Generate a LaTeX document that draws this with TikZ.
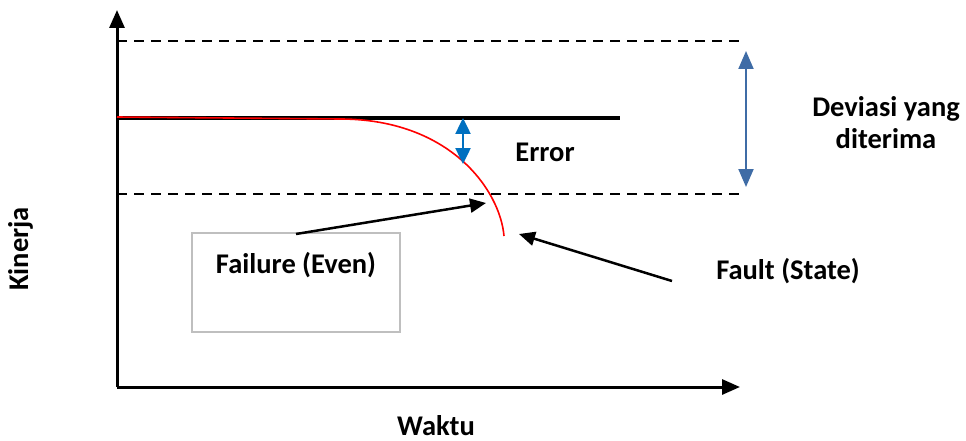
\documentclass[tikz,border=0pt]{standalone}
\usepackage{fontspec}
\setmainfont{Carlito}
\usetikzlibrary{arrows.meta}
\definecolor{errblue}{HTML}{0070C0}
\definecolor{devblue}{HTML}{3F6CA6}
\definecolor{boxgray}{HTML}{BFBFBF}
\tikzset{
  axis/.style={line width=3pt, -{Triangle[length=18pt,width=15pt]}},
  dashline/.style={line width=2pt, dash pattern=on 10pt off 7pt},
  lbl/.style={font=\bfseries\fontsize{28.5}{31}\selectfont, inner sep=0pt, align=center, anchor=base},
  ptr/.style={line width=2.5pt, -{Triangle[length=16pt,width=14pt]}},
}
\begin{document}
\begin{tikzpicture}[x=1pt,y=-1pt]
\useasboundingbox (0,0) rectangle (966,441);
\coordinate (O) at (117,387);
\coordinate (Ytop) at (117,10);
\coordinate (Xend) at (740,387);
\coordinate (D1a) at (117,41);
\coordinate (D1b) at (745,41);
\coordinate (D2a) at (117,194);
\coordinate (D2b) at (745,194);
\coordinate (Sa) at (117,118);
\coordinate (Sb) at (620,118);
\coordinate (Ra) at (117,117);
\coordinate (Rb) at (340,119);
\coordinate (Rc) at (504,236);
\coordinate (Ea) at (463,118);
\coordinate (Eb) at (463,164);
\coordinate (Va) at (746,51);
\coordinate (Vb) at (746,187);
% dashed lines
\draw[dashline] (D1a) -- (D1b);
\draw[dashline] (D2a) -- (D2b);
% axes
\draw[axis] (O) -- (Ytop);
\draw[axis] (O) -- (Xend);
% solid reference line
\draw[line width=3.5pt] (Sa) -- (Sb);
% red curve
\draw[red, line width=1.6pt] (Ra) -- (Rb) .. controls (450,119) and (500,190) .. (Rc);
% error arrow
\draw[errblue, line width=2.5pt, {Triangle[length=16pt,width=15pt]}-{Triangle[length=16pt,width=15pt]}] (Ea) -- (Eb);
% deviation arrow
\draw[devblue, line width=2pt, {Triangle[length=18pt,width=15pt]}-{Triangle[length=18pt,width=15pt]}] (Va) -- (Vb);
% box
\node[draw=boxgray, line width=2pt, minimum width=208pt, minimum height=99pt, inner sep=0pt] (box) at (296,282.5) {};
\node[lbl] (fail) at (296,273) {Failure (Even)};
\coordinate (Fa) at (296,234);
\coordinate (Fb) at (486,203);
\draw[ptr] (Fa) -- (Fb);
\node[lbl] (fault) at (788,279) {Fault (State)};
\coordinate (Ga) at (672,281);
\coordinate (Gb) at (519,234);
\draw[ptr] (Ga) -- (Gb);
\node[lbl] (err) at (545,161) {Error};
\node[lbl] (dev1) at (886,117) {Deviasi yang};
\node[lbl] (dev2) at (886,148) {diterima};
\node[lbl, rotate=90] (kin) at (28,249) {Kinerja};
\node[lbl] (wak) at (436,435) {Waktu};
\end{tikzpicture}
\end{document}
